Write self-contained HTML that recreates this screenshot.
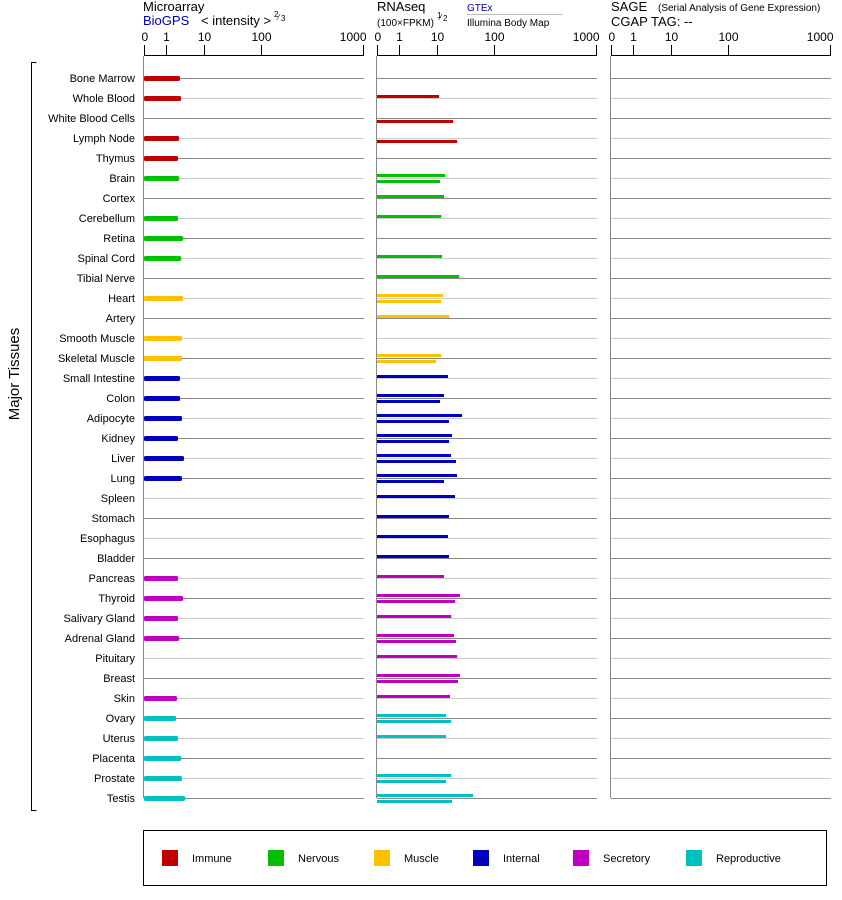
<!DOCTYPE html>
<html><head><meta charset="utf-8"><style>
body{margin:0;background:#fff;}
svg{display:block;font-family:"Liberation Sans",Arial,sans-serif;}
</style></head><body>
<svg id="s" width="842" height="900" viewBox="0 0 842 900" xmlns="http://www.w3.org/2000/svg">
<text x="143" y="11" font-size="13">Microarray</text>
<text x="143" y="25" font-size="13" fill="#0000aa">BioGPS</text>
<text x="201" y="25" font-size="13">&lt; intensity &gt;</text>
<text x="274" y="17" font-size="8">2</text><text x="278" y="20" font-size="8">⁄</text><text x="281" y="21" font-size="8">3</text>
<text x="377" y="11" font-size="13">RNAseq</text>
<text x="377" y="26" font-size="10">(100×FPKM)</text>
<text x="437" y="18" font-size="8">1</text><text x="440" y="20" font-size="8">⁄</text><text x="443" y="21" font-size="8">2</text>
<text x="467" y="11" font-size="10" fill="#0000aa">GTEx</text>
<line x1="467" y1="14.5" x2="562" y2="14.5" stroke="#bbb"/>
<text x="467" y="26" font-size="10">Illumina Body Map</text>
<text x="611" y="11" font-size="13">SAGE</text>
<text x="658" y="11" font-size="10">(Serial Analysis of Gene Expression)</text>
<text x="611" y="26" font-size="13">CGAP TAG:  --</text>
<path d="M36.5,62.5 H31.5 V810.5 H36.5" fill="none" stroke="#000"/>
<text transform="translate(19,374) rotate(-90)" font-size="15" text-anchor="middle">Major Tissues</text>
<g id="g"></g>
<rect x="143.5" y="830.5" width="683" height="55" fill="none" stroke="#000"/>
<rect x="162" y="850" width="16" height="16" fill="#c00000"/><text x="192" y="862" font-size="11">Immune</text>
<rect x="268" y="850" width="16" height="16" fill="#00c000"/><text x="298" y="862" font-size="11">Nervous</text>
<rect x="374" y="850" width="16" height="16" fill="#ffc000"/><text x="404" y="862" font-size="11">Muscle</text>
<rect x="473" y="850" width="16" height="16" fill="#0000c0"/><text x="503" y="862" font-size="11">Internal</text>
<rect x="573" y="850" width="16" height="16" fill="#c000c0"/><text x="603" y="862" font-size="11">Secretory</text>
<rect x="686" y="850" width="16" height="16" fill="#00c0c0"/><text x="716" y="862" font-size="11">Reproductive</text>
</svg>
<script>
var C={I:"#c00000",N:"#00c000",M:"#ffc000",T:"#0000c0",S:"#c000c0",R:"#00c0c0"};
var rows=[
["Bone Marrow","I",180,null,null],["Whole Blood","I",181,439,null],["White Blood Cells","I",0,null,453],["Lymph Node","I",179,null,457],["Thymus","I",178,null,null],
["Brain","N",179,445,440],["Cortex","N",0,444,null],["Cerebellum","N",178,441,null],["Retina","N",183,null,null],["Spinal Cord","N",181,442,null],["Tibial Nerve","N",0,459,null],
["Heart","M",183,443,441],["Artery","M",0,449,null],["Smooth Muscle","M",182,null,null],["Skeletal Muscle","M",182,441,436],
["Small Intestine","T",180,448,null],["Colon","T",180,444,440],["Adipocyte","T",182,462,449],["Kidney","T",178,452,449],["Liver","T",184,451,456],["Lung","T",182,457,444],["Spleen","T",0,455,null],["Stomach","T",0,449,null],["Esophagus","T",0,448,null],["Bladder","T",0,449,null],
["Pancreas","S",178,444,null],["Thyroid","S",183,460,455],["Salivary Gland","S",178,451,null],["Adrenal Gland","S",179,454,456],["Pituitary","S",0,457,null],["Breast","S",0,460,458],["Skin","S",177,450,null],
["Ovary","R",176,446,451],["Uterus","R",178,446,null],["Placenta","R",181,null,null],["Prostate","R",182,451,446],["Testis","R",185,473,452]];
var h="";
var axes=[144,377,611];
axes.forEach(function(a){
 var t=[[0,"0","start",-3],[22,"1","middle",0],[60,"10","middle",0],[117,"100","middle",0],[219,"1000","end",3]];
 h+='<line x1="'+a+'" y1="55.5" x2="'+(a+220)+'" y2="55.5" stroke="#000"/>';
 t.forEach(function(k){var x=a+k[0]+0.5;h+='<line x1="'+x+'" y1="45" x2="'+x+'" y2="56" stroke="#000"/><text x="'+(x+k[3])+'" y="41" font-size="12" text-anchor="'+k[2]+'">'+k[1]+'</text>';});
 h+='<line x1="'+(a-0.5)+'" y1="56" x2="'+(a-0.5)+'" y2="798" stroke="#888"/>';
});
rows.forEach(function(r,i){
 var y=78+i*20,col=i%2?"#ccc":"#888";
 axes.forEach(function(a){h+='<line x1="'+a+'" y1="'+(y+0.5)+'" x2="'+(a+220)+'" y2="'+(y+0.5)+'" stroke="'+col+'"/>';});
 h+='<text x="135" y="'+(y+4)+'" font-size="11" text-anchor="end">'+r[0]+'</text>';
 var c=C[r[1]];
 if(r[2])h+='<rect x="144" y="'+(y-2)+'" width="'+(r[2]-144)+'" height="5" rx="1.5" fill="'+c+'"/>';
 var two=r[3]&&r[4];
 if(r[3])h+='<rect x="377" y="'+(two?y-4:y-3)+'" width="'+(r[3]-377)+'" height="3" fill="'+c+'"/>';
 if(r[4])h+='<rect x="377" y="'+(y+2)+'" width="'+(r[4]-377)+'" height="3" fill="'+c+'"/>';
});
document.getElementById("g").innerHTML=h;
</script>
</body></html>
